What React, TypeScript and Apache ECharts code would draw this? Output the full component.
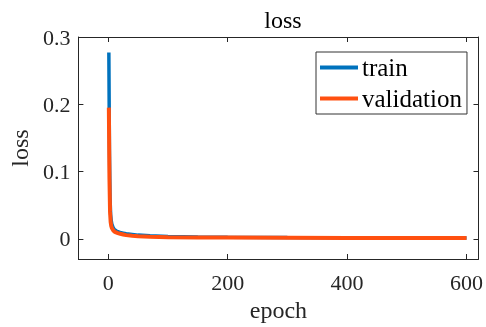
import React, { useEffect, useRef } from "react";
import * as echarts from "echarts";

const epochs = [1, 2, 3, 4, 5, 6, 8, 10, 13, 16, 20, 25, 30, 40, 50, 70, 100, 150, 200, 300, 400, 500, 600];
const trainLoss = [0.277, 0.13, 0.06, 0.036, 0.027, 0.022, 0.017, 0.014, 0.012, 0.0105, 0.0095, 0.0085, 0.0075, 0.0065, 0.0055, 0.0045, 0.0035, 0.0028, 0.0024, 0.002, 0.0017, 0.0015, 0.0014];
const valLoss = [0.195, 0.09, 0.04, 0.025, 0.019, 0.016, 0.013, 0.011, 0.0095, 0.0085, 0.0075, 0.0065, 0.0055, 0.0045, 0.0038, 0.003, 0.0025, 0.002, 0.0018, 0.0015, 0.0013, 0.0012, 0.0011];
const xTicks = [0, 200, 400, 600];
const yTicks = [0, 0.1, 0.2, 0.3];
const seriesNames = ["train", "validation"];

const FONT = "Times New Roman";
const AX = "#262626";

export default function App() {
  const ref = useRef<HTMLDivElement>(null);
  useEffect(() => {
    if (!ref.current) return;
    const chart = echarts.init(ref.current, undefined, { renderer: "svg" });
    const axisCommon = {
      axisLine: { show: true, onZero: false, lineStyle: { color: AX, width: 1 } },
      splitLine: { show: false },
    };
    chart.setOption({
      animation: false,
      title: {
        text: "loss",
        left: 278,
        textAlign: "center",
        top: 3,
        textStyle: { fontFamily: FONT, fontSize: 24, fontWeight: "normal", color: "#000" },
      },
      grid: { left: 77, right: 5, top: 37, bottom: 66, containLabel: false },
      legend: {
        data: seriesNames,
        orient: "vertical",
        left: 316,
        top: 52,
        itemWidth: 38,
        itemHeight: 4,
        itemGap: 6,
        icon: "rect",
        padding: [3, 5, 3, 4],
        borderColor: "#333",
        borderWidth: 1,
        backgroundColor: "#fff",
        textStyle: { fontFamily: FONT, fontSize: 25, color: "#000", padding: [0, 0, 0, -1] },
      },
      xAxis: [
        {
          type: "value",
          min: -50,
          max: 620,
          position: "bottom",
          ...axisCommon,
          axisTick: { show: true, inside: true, length: 5, customValues: xTicks, lineStyle: { color: AX } },
          axisLabel: { show: true, customValues: xTicks, margin: 12, fontFamily: FONT, fontSize: 22, color: AX },
          name: "epoch",
          nameLocation: "middle",
          nameGap: 39,
          nameTextStyle: { fontFamily: FONT, fontSize: 24, color: AX },
        },
        {
          type: "value",
          min: -50,
          max: 620,
          position: "top",
          ...axisCommon,
          axisTick: { show: true, inside: true, length: 5, customValues: xTicks, lineStyle: { color: AX } },
          axisLabel: { show: false },
        },
      ],
      yAxis: [
        {
          type: "value",
          min: -0.03,
          max: 0.3,
          position: "left",
          ...axisCommon,
          axisTick: { show: true, inside: true, length: 5, customValues: yTicks, lineStyle: { color: AX } },
          axisLabel: { show: true, customValues: yTicks, margin: 8, fontFamily: FONT, fontSize: 22, color: AX },
          name: "loss",
          nameLocation: "middle",
          nameGap: 40,
          nameTextStyle: { fontFamily: FONT, fontSize: 24, color: AX },
        },
        {
          type: "value",
          min: -0.03,
          max: 0.3,
          position: "right",
          ...axisCommon,
          axisTick: { show: true, inside: true, length: 5, customValues: yTicks, lineStyle: { color: AX } },
          axisLabel: { show: false },
        },
      ],
      series: [
        {
          name: seriesNames[0],
          type: "line",
          data: epochs.map((e, i) => [e, trainLoss[i]]),
          showSymbol: false,
          symbol: "none",
          lineStyle: { color: "#0072BD", width: 3.5 },
          itemStyle: { color: "#0072BD" },
        },
        {
          name: seriesNames[1],
          type: "line",
          data: epochs.map((e, i) => [e, valLoss[i]]),
          showSymbol: false,
          symbol: "none",
          lineStyle: { color: "#FF5010", width: 4 },
          itemStyle: { color: "#FF5010" },
        },
      ],
    });
    return () => chart.dispose();
  }, []);
  return <div ref={ref} style={{ position: "fixed", left: 0, top: 0, width: 486, height: 327 }} />;
}
